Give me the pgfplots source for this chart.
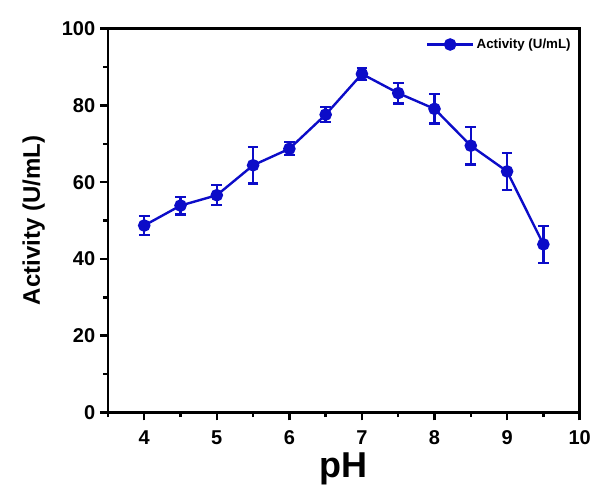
\documentclass[border=0pt]{standalone}
\usepackage{fontspec}
\setmainfont{Liberation Sans}
\usepackage{pgfplots}
\pgfplotsset{compat=1.18}
\definecolor{actblue}{RGB}{12,12,200}

\pgfplotstableread{
ph  act   err
4.0 48.7  2.5
4.5 53.9  2.3
5.0 56.6  2.6
5.5 64.4  4.7
6.0 68.7  1.7
6.5 77.6  2.0
7.0 88.2  1.6
7.5 83.2  2.7
8.0 79.1  3.8
8.5 69.5  4.9
9.0 62.8  4.8
9.5 43.8  4.8
}\acttable

\begin{document}
\begin{tikzpicture}
\useasboundingbox (-81pt,-55pt) rectangle (367pt,309.5pt);
\begin{axis}[
  scale only axis, width=354pt, height=288pt,
  xmin=3.5, xmax=10, ymin=0, ymax=100,
  xtick={4,5,6,7,8,9,10}, minor xtick={3.5,4.5,5.5,6.5,7.5,8.5,9.5},
  ytick={0,20,40,60,80,100}, minor ytick={10,30,50,70,90},
  tick align=outside, xtick pos=bottom, ytick pos=left,
  major tick length=6pt, minor tick length=3.5pt,
  every tick/.style={black, line width=1.9pt},
  axis line style={line width=1.8pt},
  /pgf/number format/assume math mode=true,
  tick label style={font=\fontsize{15}{17}\selectfont\bfseries},
  xticklabel style={yshift=-4pt},
  xlabel={pH}, ylabel={Activity (U/mL)},
  xlabel style={font=\fontsize{27}{29}\selectfont\bfseries, yshift=1pt},
  ylabel style={font=\fontsize{18}{20}\selectfont\bfseries, yshift=6pt},
  legend style={draw=none, fill=none, at={(0.99,0.985)}, anchor=north east,
    font=\fontsize{10}{12}\selectfont\bfseries, inner sep=1pt},
  legend cell align=left,
  legend image code/.code={
    \draw[#1, mark repeat=2, mark phase=2] plot coordinates {(0pt,0pt) (17pt,0pt) (34pt,0pt)};},
]
\addplot[actblue, line width=1.8pt, mark=*, mark size=3.8pt,
  mark options={actblue},
  error bars/.cd, y dir=both, y explicit,
  error bar style={actblue, line width=1.8pt},
  error mark options={rotate=90, mark size=4pt, line width=1.8pt, actblue}]
  table[x=ph, y=act, y error=err] {\acttable};
\addlegendentry{Activity (U/mL)}
\end{axis}
\end{tikzpicture}
\end{document}
